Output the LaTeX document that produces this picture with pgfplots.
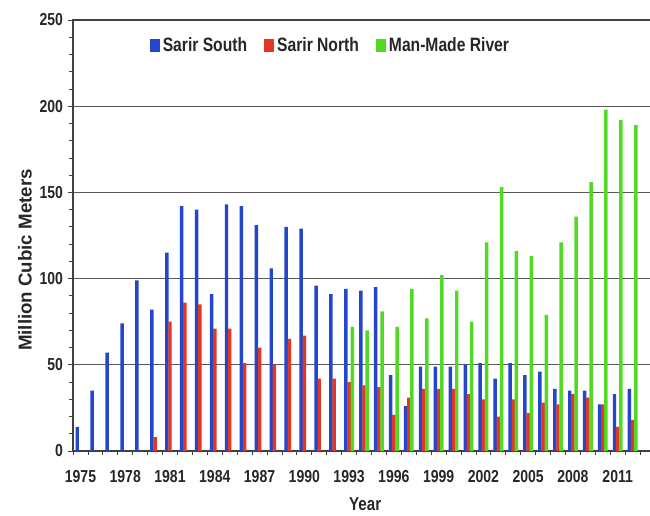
\documentclass[border=0pt]{standalone}
\usepackage{fontspec}
\setmainfont{Liberation Sans}
\newfontfamily\narrowfont{Liberation Sans}[FakeStretch=0.81]
\usepackage{pgfplots}
\pgfplotsset{compat=1.18}
\definecolor{cblue}{RGB}{35,70,205}
\definecolor{cred}{RGB}{228,55,35}
\definecolor{cgreen}{RGB}{80,218,35}
\begin{document}
\begin{tikzpicture}
\begin{axis}[
  scale only axis, width=436.5pt, height=323.25pt,
  xmin=1974.5, xmax=2013.5, ymin=0, ymax=250,
  axis line style={draw=black!75, line width=0.9pt},
  xtick={1975,1978,...,2011},
  minor xtick={1974.5,1975.5,...,2013.5},
  major x tick style={draw=none},
  ytick={0,50,...,250},
  minor y tick num=4,
  tick align=outside, tick pos=left,
  major tick length=4pt, minor tick length=3pt,
  tick style={draw=black!75, line width=0.6pt},
  ymajorgrids, major grid style={draw=black!65, line width=0.6pt},
  /pgf/number format/assume math mode=true,
  /pgf/number format/1000 sep={},
  ticklabel style={font=\narrowfont\bfseries\fontsize{13}{15}\selectfont, text=black!85},
  xticklabel style={yshift=-7pt},
  ylabel={Million Cubic Meters},
  ylabel style={at={(axis description cs:-0.0825,0.443)}, anchor=center, font=\bfseries\fontsize{14}{16}\selectfont, text=black!85},
  xlabel={Year},
  xlabel style={at={(axis description cs:0.502,-0.123)}, anchor=center, font=\narrowfont\bfseries\fontsize{14}{16}\selectfont, text=black!85},
  ybar, bar width=2.6pt,
  legend columns=3,
  legend style={draw=none, fill=none, at={(0.132,0.94)}, anchor=west, inner sep=0pt,
    font=\narrowfont\bfseries\fontsize{14.5}{16}\selectfont, text=black!85,
    /tikz/every even column/.append style={column sep=11pt}},
  legend image code/.code={\fill[#1] (0pt,-4.9pt) rectangle (7.5pt,4.9pt);},
]
\addplot[ybar, bar shift=-2.4pt, fill=cblue, draw=none] coordinates {
(1975,14) (1976,35) (1977,57) (1978,74) (1979,99) (1980,82) (1981,115) (1982,142)
(1983,140) (1984,91) (1985,143) (1986,142) (1987,131) (1988,106) (1989,130) (1990,129)
(1991,96) (1992,91) (1993,94) (1994,93) (1995,95) (1996,44) (1997,26) (1998,49)
(1999,49) (2000,49) (2001,50) (2002,51) (2003,42) (2004,51) (2005,44) (2006,46)
(2007,36) (2008,35) (2009,35) (2010,27) (2011,33) (2012,36)};
\addlegendentry{Sarir South}
\addplot[ybar, bar shift=0pt, fill=cred, draw=none] coordinates {
(1980,8) (1981,75) (1982,86) (1983,85) (1984,71) (1985,71) (1986,51) (1987,60)
(1988,50) (1989,65) (1990,67) (1991,42) (1992,42) (1993,40) (1994,38) (1995,37)
(1996,21) (1997,31) (1998,36) (1999,36) (2000,36) (2001,33) (2002,30) (2003,20)
(2004,30) (2005,22) (2006,28) (2007,27) (2008,33) (2009,31) (2010,27) (2011,14) (2012,18)};
\addlegendentry{Sarir North}
\addplot[ybar, bar shift=2.4pt, fill=cgreen, draw=none] coordinates {
(1993,72) (1994,70) (1995,81) (1996,72) (1997,94) (1998,77) (1999,102) (2000,93)
(2001,75) (2002,121) (2003,153) (2004,116) (2005,113) (2006,79) (2007,121) (2008,136)
(2009,156) (2010,198) (2011,192) (2012,189)};
\addlegendentry{Man-Made River}
\end{axis}
\pgfresetboundingbox
\path[use as bounding box] ([xshift=-54.75pt,yshift=-48pt]current axis.south west) rectangle ([xshift=-3.75pt,yshift=15pt]current axis.north east);
\end{tikzpicture}
\end{document}
